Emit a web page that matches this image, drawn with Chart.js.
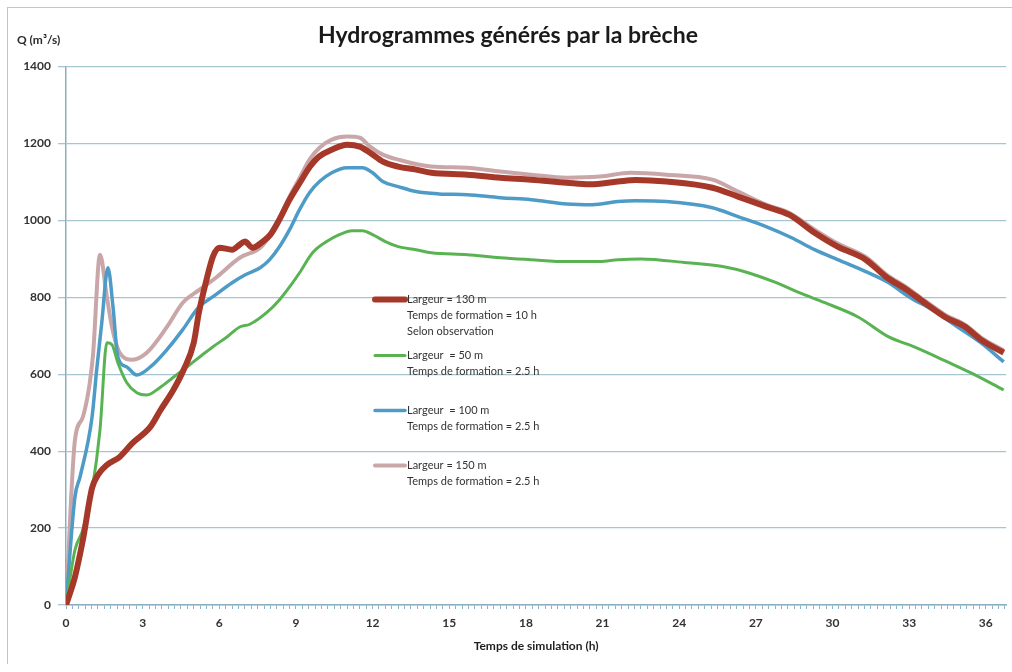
<!DOCTYPE html>
<html>
<head>
<meta charset="utf-8">
<script src="https://cdn.jsdelivr.net/npm/chart.js@4"></script>
<style>
	body { margin: 0; background: #fff; overflow: hidden; }
	#wrap { position: relative; width: 1012px; height: 672px; overflow: hidden; }
	.rule { position: absolute; background: #b3cad6; }
	#ruleLeft { left: 7px; top: 7px; width: 1px; height: 657px; }
	#ruleTop { left: 7px; top: 7px; width: 1005px; height: 1px; }
	canvas { position: absolute; left: 0; top: 0; }
</style>
</head>
<body>
<div id="wrap">
	<div class="rule" id="ruleLeft"></div>
	<div class="rule" id="ruleTop"></div>
	<canvas id="hydro" width="1012" height="672"></canvas>
</div>
<script>
// hydrogrammes : temps (h) et débit (m3/s) pour chaque scénario de brèche
const t130 = [0, 0.35, 0.66, 1.02, 1.25, 1.6, 2.1, 2.6, 3.3, 3.7, 4.2, 4.6, 5.0, 5.2, 5.5, 5.75, 6.0, 6.5, 6.8, 7.0, 7.3, 7.7, 8.0, 8.35, 8.75, 9.15, 9.55, 9.9, 10.4, 11.0, 11.5, 11.9, 12.4, 13.0, 13.7, 14.3, 15.7, 17.0, 18.2, 19.6, 20.5, 21.6, 22.3, 23.5, 25.3, 26.3, 27.4, 28.3, 29.3, 30.2, 31.3, 32.1, 32.9, 33.6, 34.4, 35.2, 35.8, 36.7];
const q130 = [0, 73, 169, 304, 338, 364, 385, 421, 463, 507, 559, 611, 682, 760, 846, 906, 929, 924, 937, 945, 929, 945, 963, 1002, 1054, 1098, 1140, 1166, 1184, 1197, 1192, 1176, 1153, 1140, 1132, 1124, 1119, 1111, 1106, 1098, 1094, 1101, 1105, 1101, 1085, 1062, 1036, 1015, 968, 932, 898, 853, 820, 786, 749, 723, 690, 656];

const t50 = [0, 0.35, 0.66, 1.02, 1.33, 1.6, 1.8, 2.03, 2.38, 2.77, 3.16, 3.67, 4.18, 4.73, 5.23, 5.74, 6.3, 6.8, 7.2, 7.85, 8.36, 8.75, 9.14, 9.65, 10.2, 10.7, 11.2, 11.6, 12.0, 12.5, 13.0, 13.7, 14.3, 15.7, 17.0, 18.2, 19.6, 20.9, 21.6, 22.5, 24.3, 25.7, 26.7, 27.8, 28.7, 29.7, 31.0, 32.2, 33.2, 34.5, 35.4, 36.7];
const q50 = [0, 143, 195, 299, 455, 682, 677, 630, 578, 552, 546, 565, 591, 619, 645, 671, 697, 723, 730, 760, 794, 827, 864, 916, 945, 963, 973, 973, 963, 945, 932, 924, 916, 911, 903, 898, 893, 893, 898, 900, 890, 880, 864, 838, 812, 786, 749, 697, 671, 632, 604, 559];

const t100 = [0, 0.35, 0.55, 1.02, 1.2, 1.4, 1.64, 1.84, 2.03, 2.38, 2.77, 3.3, 3.95, 4.57, 5.2, 5.74, 6.5, 7.0, 7.6, 7.97, 8.36, 8.75, 9.14, 9.53, 9.92, 10.4, 11.0, 11.6, 12.0, 12.4, 13.0, 13.7, 14.6, 15.7, 17.0, 18.2, 19.6, 20.6, 21.6, 22.3, 23.5, 25.3, 26.3, 27.4, 28.4, 29.3, 30.2, 31.3, 32.2, 33.0, 33.9, 34.9, 35.8, 36.7];
const q100 = [0, 281, 333, 489, 611, 734, 877, 775, 645, 619, 598, 619, 664, 716, 775, 801, 838, 858, 877, 898, 932, 976, 1028, 1072, 1101, 1124, 1137, 1137, 1124, 1101, 1088, 1075, 1069, 1067, 1059, 1054, 1043, 1041, 1049, 1051, 1049, 1033, 1010, 984, 955, 924, 898, 867, 838, 801, 768, 723, 682, 632];

const t150 = [0, 0.35, 0.66, 1.05, 1.33, 1.6, 1.8, 2.1, 2.6, 3.16, 3.95, 4.57, 5.23, 5.9, 6.8, 7.6, 7.97, 8.36, 8.75, 9.14, 9.53, 9.92, 10.4, 11.0, 11.5, 11.9, 12.4, 13.0, 14.3, 15.7, 17.0, 18.2, 19.6, 20.9, 22.1, 23.5, 25.3, 26.3, 27.4, 28.3, 29.3, 30.2, 31.3, 32.1, 32.9, 33.6, 34.4, 35.2, 35.8, 36.7];
const q150 = [0, 429, 489, 645, 911, 801, 723, 656, 638, 656, 723, 786, 820, 853, 903, 929, 960, 1008, 1062, 1110, 1158, 1189, 1210, 1218, 1215, 1192, 1171, 1158, 1140, 1137, 1127, 1119, 1111, 1114, 1124, 1119, 1106, 1075, 1041, 1020, 976, 940, 905, 860, 826, 792, 755, 728, 696, 662];

const yTicks = [0, 200, 400, 600, 800, 1000, 1200, 1400];
const xLabelStep = 3;
const xMinorStep = 0.25;

const legendText = [
	["Largeur = 130 m", "Temps de formation = 10 h", "Selon observation"],
	["Largeur  = 50 m", "Temps de formation = 2.5 h"],
	["Largeur  = 100 m", "Temps de formation = 2.5 h"],
	["Largeur = 150 m", "Temps de formation = 2.5 h"]
];

const FONT = "Lato, 'Open Sans', sans-serif";

function toPoints(ts, qs) {
	let pts = [];
	for (let i = 0; i < ts.length; i++) {
		pts.push({ x: ts[i], y: qs[i] });
	}
	return pts;
}

function series(label, ts, qs, color, width) {
	return {
		label: label,
		data: toPoints(ts, qs),
		borderColor: color,
		borderWidth: width,
		pointRadius: 0,
		fill: false,
		cubicInterpolationMode: 'monotone'
	};
}

// légende à l'intérieur du graphique, texte sur plusieurs lignes
const innerLegend = {
	id: 'innerLegend',
	afterDraw(chart) {
		const ctx = chart.ctx;
		const area = chart.chartArea;
		const x0 = area.left + 309;
		const rows = [233, 289, 344, 399];
		ctx.save();
		ctx.font = "11px " + FONT;
		ctx.fillStyle = '#333';
		ctx.textBaseline = 'middle';
		chart.data.datasets.forEach((ds, i) => {
			const y = area.top + rows[i];
			ctx.strokeStyle = ds.borderColor;
			ctx.lineWidth = ds.borderWidth;
			ctx.lineCap = 'round';
			ctx.beginPath();
			ctx.moveTo(x0, y);
			ctx.lineTo(x0 + 30, y);
			ctx.stroke();
			legendText[i].forEach((line, j) => {
				ctx.fillText(line, x0 + 32, y + j * 16);
			});
		});
		ctx.font = "bold 12px " + FONT;
		ctx.fillStyle = '#2b2b2b';
		ctx.fillText("Q (m³/s)", area.left - 49, area.top - 26);
		ctx.restore();
	}
};

const cfg = {
	type: 'line',
	data: {
		datasets: [
			series('Largeur = 130 m', t130, q130, '#a6382a', 6),
			series('Largeur = 50 m', t50, q50, '#5ab353', 3),
			series('Largeur = 100 m', t100, q100, '#4f9bc7', 3.5),
			series('Largeur = 150 m', t150, q150, '#c9a7a9', 4)
		]
	},
	options: {
		responsive: false,
		animation: false,
		devicePixelRatio: 1,
		layout: { padding: { left: 8, right: 4, top: 0, bottom: 9 } },
		plugins: {
			legend: { display: false },
			tooltip: { enabled: false },
			title: {
				display: true,
				text: 'Hydrogrammes générés par la brèche',
				color: '#1a1a1a',
				font: { family: FONT, size: 23, weight: 'bold' },
				padding: { top: 22, bottom: 17 }
			}
		},
		scales: {
			x: {
				type: 'linear',
				min: 0,
				max: 36.8,
				afterBuildTicks(scale) {
					let ticks = [];
					for (let v = 0; v <= 36.75; v += xMinorStep) {
						ticks.push({ value: Math.round(v * 100) / 100 });
					}
					scale.ticks = ticks;
				},
				afterFit(scale) { scale.height = 58; },
				ticks: {
					autoSkip: false,
					maxRotation: 0,
					padding: 7,
					color: '#333',
					font: { family: FONT, size: 12, weight: 'bold' },
					callback: v => (v % xLabelStep === 0 ? String(v) : '')
				},
				grid: { drawOnChartArea: false, tickLength: 4, color: '#8fb4c8' },
				border: { color: '#8aafc2', width: 1.5 },
				title: {
					display: true,
					text: 'Temps de simulation (h)',
					color: '#1f1f1f',
					font: { family: FONT, size: 12, weight: 'bold' },
					padding: { top: 4, bottom: 10 }
				}
			},
			y: {
				min: 0,
				max: 1400,
				afterBuildTicks(scale) {
					scale.ticks = yTicks.map(v => ({ value: v }));
				},
				afterFit(scale) { scale.width = 58; },
				ticks: {
					padding: 7,
					color: '#333',
					font: { family: FONT, size: 12, weight: 'bold' },
					callback: v => String(v)
				},
				grid: { color: '#a7c4d3', lineWidth: 1.3, tickLength: 8 },
				border: { color: '#8aafc2', width: 1.5 }
			}
		}
	},
	plugins: [innerLegend]
};

const hydroChart = new Chart(document.getElementById('hydro'), cfg);
</script>
</body>
</html>
